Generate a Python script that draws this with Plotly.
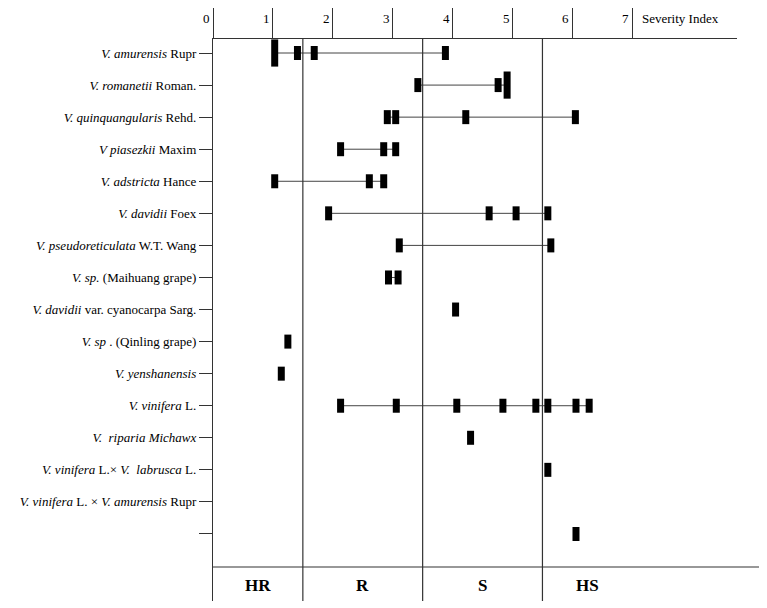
import plotly.graph_objects as go
from collections import Counter

# ---- data -------------------------------------------------------------
species = [
    "V. amurensis Rupr",
    "V. romanetii Roman.",
    "V. quinquangularis Rehd.",
    "V piasezkii Maxim",
    "V. adstricta Hance",
    "V. davidii Foex",
    "V. pseudoreticulata W.T. Wang",
    "V. sp. (Maihuang grape)",
    "V. davidii var. cyanocarpa Sarg.",
    "V. sp. (Qinling grape)",
    "V. yenshanensis",
    "V. vinifera L.",
    "V. riparia Michawx",
    "V. vinifera L. x V. labrusca L.",
    "V. vinifera L. x V. amurensis Rupr",
    "(unlabelled row)",
]
species_labels = [
    "<i>V. amurensis</i> Rupr",
    "<i>V. romanetii</i> Roman.",
    "<i>V. quinquangularis</i> Rehd.",
    "<i>V piasezkii</i> Maxim",
    "<i>V. adstricta</i> Hance",
    "<i>V. davidii</i> Foex",
    "<i>V. pseudoreticulata</i> W.T. Wang",
    "<i>V. sp.</i> (Maihuang grape)",
    "<i>V. davidii</i> var. cyanocarpa Sarg.",
    "<i>V. sp</i> . (Qinling grape)",
    "<i>V. yenshanensis</i>",
    "<i>V. vinifera</i> L.",
    "<i>V.  riparia Michawx</i>",
    "<i>V. vinifera</i> L.× <i>V.  labrusca</i> L.",
    "<i>V. vinifera</i> L. × <i>V. amurensis</i> Rupr",
    "",
]
# severity index values per species (repeated value = stacked marker)
severity = [
    [1.03, 1.03, 1.41, 1.69, 3.88],
    [3.42, 4.76, 4.91, 4.91],
    [2.91, 3.05, 4.22, 6.05],
    [2.13, 2.85, 3.05],
    [1.03, 2.61, 2.85],
    [1.93, 4.61, 5.06, 5.59],
    [3.11, 5.64],
    [2.93, 3.09],
    [4.05],
    [1.25],
    [1.14],
    [2.13, 3.06, 4.07, 4.84, 5.39, 5.59, 6.06, 6.28],
    [4.30],
    [5.59],
    [],
    [6.06],
]
x_ticks = [0, 1, 2, 3, 4, 5, 6, 7]
x_tick_labels = ["0", "1", "2", "3", "4", "5", "6", "7"]
class_bounds = [0, 1.5, 3.5, 5.5, 7]
class_names = ["HR", "R", "S", "HS"]

# ---- figure -----------------------------------------------------------
LINE = "#333333"
SERIF = "Liberation Serif, Times New Roman, serif"

fig = go.Figure()
for name, vals in zip(species, severity):
    if not vals:
        fig.add_trace(go.Scatter(x=[None], y=[name], mode="markers",
                                 showlegend=False, hoverinfo="skip"))
        continue
    cnt = Counter(vals)
    xs = sorted(cnt)
    sizes = [10 + 9.4 * (cnt[v] - 1) for v in xs]
    if len(xs) > 1:
        fig.add_trace(go.Scatter(
            x=xs, y=[name] * len(xs), mode="lines",
            line=dict(color="#444444", width=1),
            showlegend=False, hoverinfo="skip",
        ))
    fig.add_trace(go.Scatter(
        x=xs, y=[name] * len(xs), mode="markers",
        marker=dict(symbol="line-ns", size=sizes, color="#000000",
                    opacity=1,
                    line=dict(color="#000000", width=7)),
        showlegend=False,
    ))

shapes = []
for b in class_bounds[1:-1]:
    shapes.append(dict(type="line", xref="x", yref="paper", x0=b, x1=b,
                       y0=0, y1=1, line=dict(color=LINE, width=1.2)))
shapes.append(dict(type="line", xref="paper", yref="paper", x0=0, x1=1.044,
                   y0=0.0605, y1=0.0605, line=dict(color=LINE, width=1.2)))

annotations = []
for t, lab in zip(x_ticks, x_tick_labels):
    annotations.append(dict(x=t, y=1.0356, xref="x", yref="paper",
                            text=lab, showarrow=False, xanchor="right",
                            yanchor="middle", xshift=-1,
                            font=dict(family=SERIF, size=13, color="black")))
annotations.append(dict(x=x_ticks[-1], y=1.0356, xref="x", yref="paper",
                        text="Severity Index", showarrow=False,
                        xanchor="left", yanchor="middle", xshift=8,
                        font=dict(family=SERIF, size=13, color="black")))
for i, nm in enumerate(class_names):
    mid = (class_bounds[i] + class_bounds[i + 1]) / 2
    annotations.append(dict(x=mid, y=0.027, xref="x", yref="paper",
                            text="<b>%s</b>" % nm, showarrow=False,
                            xanchor="center", yanchor="middle",
                            font=dict(family=SERIF, size=17, color="black")))

fig.update_layout(
    width=759, height=600,
    margin=dict(l=205, r=30, t=31, b=7, autoexpand=False),
    paper_bgcolor="white", plot_bgcolor="white",
    shapes=shapes, annotations=annotations,
    xaxis=dict(side="top", range=[0, 8.748], tickvals=x_ticks,
               showticklabels=False, ticks="outside", ticklen=32,
               tickwidth=1.2, tickcolor=LINE, showline=True,
               linecolor=LINE, linewidth=1.2, showgrid=False,
               zeroline=False, automargin=False),
    yaxis=dict(type="category", categoryorder="array", categoryarray=species,
               tickvals=species, ticktext=species_labels,
               range=[17.09, -0.437], ticks="outside", ticklen=13,
               tickwidth=1.2, tickcolor=LINE, showline=True,
               linecolor=LINE, linewidth=1.2, showgrid=False,
               zeroline=False, automargin=False,
               tickfont=dict(family=SERIF, size=13, color="black")),
)

fig.write_html("out.html")
